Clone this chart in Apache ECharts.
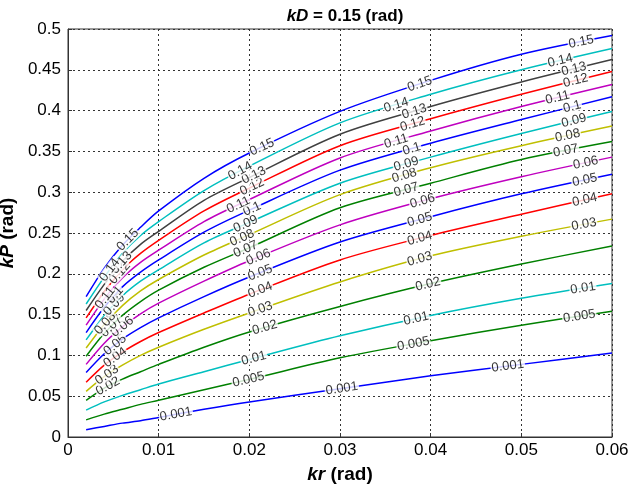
<!DOCTYPE html>
<html>
<head>
<meta charset="utf-8">
<script src="https://cdn.jsdelivr.net/npm/echarts/dist/echarts.min.js"></script>
<style>
  html, body { margin: 0; padding: 0; background: #fff; }
  #main { width: 629px; height: 486px; }
</style>
</head>
<body>
<div id="main"></div>
<script>
// kr sample points (rad)
const kr = [0.002, 0.004, 0.006, 0.008, 0.01, 0.015, 0.02, 0.03, 0.04, 0.05, 0.06]

// contour levels and their colours
const levels = [0.001, 0.005, 0.01, 0.02, 0.03, 0.04, 0.05, 0.06, 0.07, 0.08, 0.09, 0.1, 0.11, 0.12, 0.13, 0.14, 0.15]
const colors = ['#0000ff', '#008000', '#00bfbf', '#008000', '#bfbf00', '#ff0000', '#0000ff', '#bf00bf',
  '#008000', '#bfbf00', '#00bfbf', '#0000ff', '#bf00bf', '#ff0000', '#404040', '#00bfbf', '#0000ff']

// kP along each contour, one row per level
const kP = [
  [0.009, 0.013, 0.017, 0.020, 0.024, 0.034, 0.043, 0.059, 0.075, 0.089, 0.103], // 0.001
  [0.021, 0.028, 0.034, 0.040, 0.045, 0.058, 0.0706, 0.097, 0.118, 0.137, 0.154], // 0.005
  [0.033, 0.043, 0.051, 0.058, 0.065, 0.080, 0.095, 0.124, 0.149, 0.170, 0.188], // 0.01
  [0.045, 0.060, 0.071, 0.080, 0.089, 0.110, 0.1287, 0.160, 0.188, 0.212, 0.234], // 0.02
  [0.056, 0.074, 0.088, 0.100, 0.110, 0.132, 0.152, 0.190, 0.222, 0.246, 0.267], // 0.03
  [0.067, 0.088, 0.104, 0.117, 0.128, 0.152, 0.175, 0.217, 0.247, 0.273, 0.298], // 0.04
  [0.079, 0.102, 0.120, 0.134, 0.146, 0.172, 0.196, 0.239, 0.270, 0.298, 0.322], // 0.05
  [0.089, 0.115, 0.135, 0.151, 0.164, 0.191, 0.216, 0.260, 0.292, 0.319, 0.343], // 0.06
  [0.099, 0.127, 0.149, 0.166, 0.180, 0.208, 0.232, 0.281, 0.311, 0.340, 0.362], // 0.07
  [0.109, 0.138, 0.161, 0.179, 0.193, 0.223, 0.248, 0.297, 0.330, 0.357, 0.381], // 0.08
  [0.119, 0.149, 0.173, 0.191, 0.205, 0.238, 0.263, 0.311, 0.343, 0.372, 0.399], // 0.09
  [0.128, 0.159, 0.184, 0.202, 0.217, 0.251, 0.278, 0.327, 0.360, 0.389, 0.417], // 0.1
  [0.137, 0.169, 0.195, 0.214, 0.229, 0.264, 0.291, 0.342, 0.375, 0.405, 0.432], // 0.11
  [0.146, 0.178, 0.205, 0.225, 0.241, 0.277, 0.305, 0.357, 0.390, 0.420, 0.448], // 0.12
  [0.155, 0.187, 0.215, 0.236, 0.252, 0.290, 0.318, 0.371, 0.405, 0.435, 0.4625], // 0.13
  [0.163, 0.196, 0.225, 0.247, 0.264, 0.302, 0.332, 0.385, 0.420, 0.450, 0.476], // 0.14
  [0.172, 0.207, 0.235, 0.257, 0.277, 0.317, 0.348, 0.399, 0.437, 0.469, 0.492], // 0.15
]

// kr where each contour carries a label
const labelAt = [
  [0.0119, 0.0302, 0.0485],
  [0.0199, 0.0381, 0.0564],
  [0.0205, 0.0384, 0.0568],
  [0.0044, 0.0217, 0.0397],
  [0.0043, 0.0212, 0.0388, 0.0569],
  [0.0052, 0.0212, 0.0388, 0.0570],
  [0.0052, 0.0212, 0.0388, 0.0570],
  [0.0060, 0.0210, 0.0391, 0.0571],
  [0.0048, 0.0196, 0.0373, 0.0549],
  [0.0041, 0.0192, 0.0371, 0.0551],
  [0.0051, 0.0196, 0.0373, 0.0558],
  [0.0052, 0.0203, 0.0379, 0.0556],
  [0.0041, 0.0188, 0.0362, 0.0540],
  [0.0057, 0.0203, 0.0380, 0.0560],
  [0.0059, 0.0205, 0.0382, 0.0558],
  [0.0046, 0.0190, 0.0362, 0.0543],
  [0.0066, 0.0214, 0.0388, 0.0566],
]

const font = 'Liberation Sans, Arial, sans-serif'
const myChart = echarts.init(document.getElementById('main'))

function fmt(v) {
  return String(Math.round(v * 1000) / 1000)
}

// point on a contour at a given kr
function yAt(row, x) {
  for (let i = 0; i < kr.length - 1; i++) {
    if (x >= kr[i] && x <= kr[i + 1]) {
      const t = (x - kr[i]) / (kr[i + 1] - kr[i])
      return row[i] + t * (row[i + 1] - row[i])
    }
  }
  return row[row.length - 1]
}

const lineSeries = levels.map((lv, i) => ({
  name: String(lv),
  type: 'line',
  smooth: 0.3,
  showSymbol: false,
  silent: true,
  z: 2,
  lineStyle: { color: colors[i], width: 1.5 },
  data: kr.map((x, j) => [x, kP[i][j]]),
}))

const nameStyle = {
  fontFamily: font, fontSize: 19, fontWeight: 'bold', color: '#000',
  rich: { i: { fontFamily: font, fontSize: 19, fontWeight: 'bold', fontStyle: 'italic' } },
}

const option = {
  animation: false,
  title: {
    text: '{i|kD} = 0.15 (rad)',
    left: 340,
    textAlign: 'center',
    top: 3,
    textStyle: {
      fontFamily: font,
      fontSize: 17,
      fontWeight: 'bold',
      color: '#000',
      rich: { i: { fontFamily: font, fontSize: 17, fontWeight: 'bold', fontStyle: 'italic' } },
    },
  },
  grid: {
    left: 68, right: 17, top: 29, bottom: 49,
    outerBoundsMode: 'none',
    containLabel: false,
    show: true, borderColor: '#333', borderWidth: 1,
  },
  xAxis: {
    type: 'value',
    min: 0,
    max: 0.06,
    interval: 0.01,
    name: '{i|kr} (rad)',
    nameLocation: 'middle',
    nameGap: 28,
    nameTextStyle: nameStyle,
    axisLine: { show: true, lineStyle: { color: '#333' } },
    axisTick: { show: true, inside: true, length: 4, lineStyle: { color: '#333' } },
    axisLabel: { fontFamily: font, fontSize: 17, color: '#000', margin: 5, formatter: fmt },
    splitLine: { show: true, lineStyle: { color: '#333', type: [2, 3], width: 1 } },
  },
  yAxis: {
    type: 'value',
    min: 0,
    max: 0.5,
    interval: 0.05,
    name: '{i|kP} (rad)',
    nameLocation: 'middle',
    nameGap: 41,
    nameRotate: 90,
    nameTextStyle: nameStyle,
    axisLine: { show: true, lineStyle: { color: '#333' } },
    axisTick: { show: true, inside: true, length: 4, lineStyle: { color: '#333' } },
    axisLabel: { fontFamily: font, fontSize: 17, color: '#000', margin: 7, formatter: fmt },
    splitLine: { show: true, lineStyle: { color: '#333', type: [2, 3], width: 1 } },
  },
  series: lineSeries,
}

myChart.setOption(option)

// inline contour labels, rotated along the line
const labelData = []
levels.forEach((lv, i) => {
  labelAt[i].forEach((x) => {
    const y = yAt(kP[i], x)
    const p1 = myChart.convertToPixel({ gridIndex: 0 }, [x - 0.0008, yAt(kP[i], x - 0.0008)])
    const p2 = myChart.convertToPixel({ gridIndex: 0 }, [x + 0.0008, yAt(kP[i], x + 0.0008)])
    const angle = Math.atan2(p1[1] - p2[1], p2[0] - p1[0]) * 180 / Math.PI
    labelData.push({
      value: [x, y],
      label: { rotate: angle, formatter: String(lv) },
    })
  })
})

myChart.setOption({
  series: lineSeries.concat([{
    type: 'scatter',
    symbolSize: 0,
    silent: true,
    z: 5,
    label: {
      show: true,
      position: 'inside',
      fontFamily: font,
      fontSize: 13,
      color: '#000',
      backgroundColor: '#fff',
      padding: [0, 1],
      lineHeight: 11,
    },
    data: labelData,
  }]),
})

window.addEventListener('resize', function () {
  myChart.resize()
})
</script>
</body>
</html>
